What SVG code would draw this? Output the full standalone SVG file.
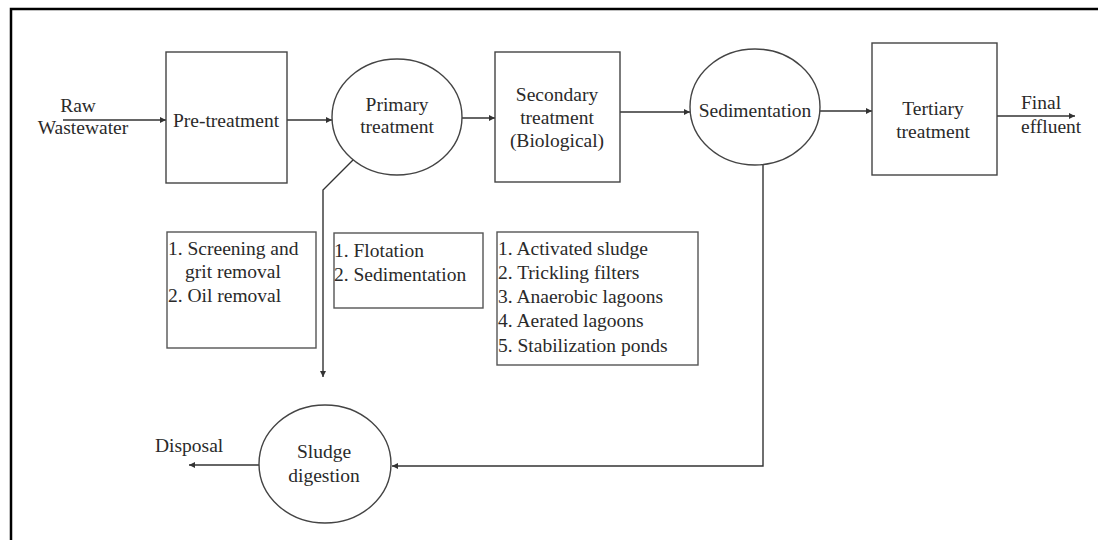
<svg xmlns="http://www.w3.org/2000/svg" width="1098" height="540" viewBox="0 0 1098 540">
<defs>
<marker id="ah" viewBox="0 0 10 10" refX="10" refY="5" markerWidth="7" markerHeight="6" markerUnits="userSpaceOnUse" orient="auto">
<path d="M0,0 L10,5 L0,10 z" fill="#333"/>
</marker>
</defs>
<style>
text{font-family:"Liberation Serif","Times New Roman",serif;font-size:19.5px;fill:#2a2a2a}
.c{text-anchor:middle}
.shape{fill:#fff;stroke:#444;stroke-width:1.4}
.ln{fill:none;stroke:#333;stroke-width:1.4}
.lst{fill:#fff;stroke:#555;stroke-width:1.4}
</style>
<rect width="1098" height="540" fill="#fff"/>
<g id="frame">
<path d="M11,540 L11,9 L1098,9" fill="none" stroke="#000" stroke-width="2.5"/>
</g>
<g id="connectors">
<line class="ln" x1="63" y1="120" x2="166" y2="120" marker-end="url(#ah)"/>
<line class="ln" x1="287" y1="120" x2="332" y2="120" marker-end="url(#ah)"/>
<line class="ln" x1="462" y1="118" x2="495" y2="118" marker-end="url(#ah)"/>
<line class="ln" x1="620" y1="112" x2="690" y2="112" marker-end="url(#ah)"/>
<line class="ln" x1="820" y1="111" x2="872" y2="111" marker-end="url(#ah)"/>
<line class="ln" x1="997" y1="116" x2="1075" y2="116" marker-end="url(#ah)"/>
<polyline class="ln" points="375,138 323,190 323,377" marker-end="url(#ah)"/>
<polyline class="ln" points="763,165 763,466 392,466" marker-end="url(#ah)"/>
<line class="ln" x1="259" y1="465" x2="189" y2="465" marker-end="url(#ah)"/>
</g>
<g id="raw-wastewater">
<text class="c" x="78" y="112">Raw</text>
<text class="c" x="83" y="134">Wastewater</text>
</g>
<g id="pre-treatment">
<rect class="shape" x="166" y="52" width="121" height="131"/>
<text class="c" x="226" y="127">Pre-treatment</text>
</g>
<g id="primary-treatment">
<ellipse class="shape" cx="397" cy="117" rx="65" ry="58"/>
<text class="c" x="397" y="111">Primary</text>
<text class="c" x="397" y="133">treatment</text>
</g>
<g id="secondary-treatment">
<rect class="shape" x="495" y="52" width="125" height="130"/>
<text class="c" x="557" y="101">Secondary</text>
<text class="c" x="557" y="124">treatment</text>
<text class="c" x="557" y="147">(Biological)</text>
</g>
<g id="sedimentation">
<ellipse class="shape" cx="755" cy="107" rx="65" ry="58"/>
<text class="c" x="755" y="117">Sedimentation</text>
</g>
<g id="tertiary-treatment">
<rect class="shape" x="872" y="43" width="125" height="132"/>
<text class="c" x="933" y="115">Tertiary</text>
<text class="c" x="933" y="138">treatment</text>
</g>
<g id="final-effluent">
<text x="1021" y="109">Final</text>
<text x="1021" y="133">effluent</text>
</g>
<g id="sludge-digestion">
<ellipse class="shape" cx="325" cy="464" rx="66" ry="59"/>
<text class="c" x="324" y="458">Sludge</text>
<text class="c" x="324" y="482">digestion</text>
</g>
<g id="disposal">
<text x="155" y="452">Disposal</text>
</g>
<g id="pre-treatment-list">
<rect class="lst" x="167" y="232" width="149" height="116"/>
<text x="168" y="255">1. Screening and</text>
<text x="185" y="278">grit removal</text>
<text x="168" y="302">2. Oil removal</text>
</g>
<g id="primary-list">
<rect class="lst" x="334" y="233" width="149" height="75"/>
<text x="334" y="257">1. Flotation</text>
<text x="334" y="281">2. Sedimentation</text>
</g>
<g id="secondary-list">
<rect class="lst" x="497" y="232" width="201" height="133"/>
<text x="498" y="255">1. Activated sludge</text>
<text x="498" y="279">2. Trickling filters</text>
<text x="498" y="303">3. Anaerobic lagoons</text>
<text x="498" y="327">4. Aerated lagoons</text>
<text x="498" y="352">5. Stabilization ponds</text>
</g>
</svg>
